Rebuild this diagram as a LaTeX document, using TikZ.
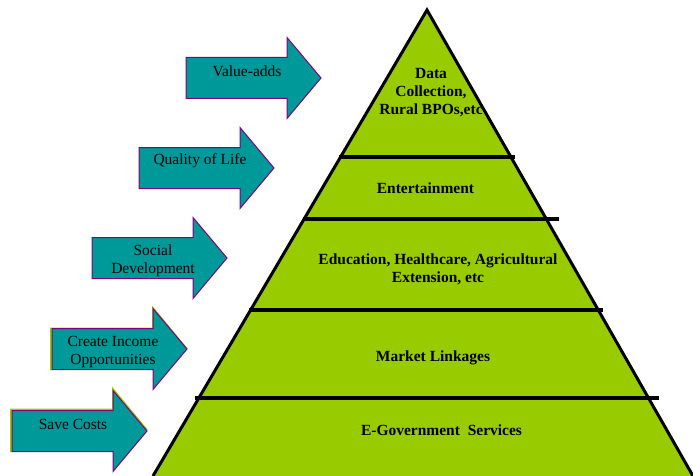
\documentclass[tikz,border=0pt]{standalone}
\usepackage{fontspec}
\setmainfont{Liberation Serif}
\usetikzlibrary{positioning}

\definecolor{leaf}{HTML}{99CC00}
\definecolor{sea}{HTML}{009999}
\definecolor{plum}{HTML}{800080}

\tikzset{
  side/.style={line width=3pt},
  layer/.style={line width=3.6pt},
  gainbox/.style={fill=sea, draw=plum, line width=1pt},
  glow/.style={draw=leaf, line width=1.6pt},
  gaintext/.style={font=\fontsize{15.5}{18}\selectfont, align=center, inner sep=0pt},
  tiertext/.style={font=\fontsize{15.5}{18}\selectfont\bfseries, align=center, inner sep=0pt}
}

% arrow with its label: #1 name, #2 x, #3 y of the centre line, #4 text, #5 text shift
\newcommand{\gainarrow}[5]{%
  \draw[gainbox] (#2,#3-20.5) -- (#2+101,#3-20.5) -- (#2+101,#3-40.5)
        -- (#2+135,#3) -- (#2+101,#3+40.5) -- (#2+101,#3+20.5)
        -- (#2,#3+20.5) -- cycle;
  \node[gaintext] (#1) at (#2+61,#3+#5) {#4};
}

\begin{document}
\begin{tikzpicture}[x=1pt, y=-1pt]
  \useasboundingbox (0,0) rectangle (693,476);

  % pyramid
  \coordinate (apex) at (427,10);
  \coordinate (baseL) at (153,476);
  \coordinate (baseR) at (693,476);
  \fill[leaf] (apex) -- (baseR) -- (baseL) -- cycle;
  \draw[side] (baseL) -- (apex) -- (baseR);

  % tiers
  \foreach \y/\xa/\xb in {157/339/515, 219/303/559, 310/249/603, 398/195/659}
    \draw[layer] (\xa,\y) -- (\xb,\y);

  \node[tiertext] (data) at (431,93) {Data\\Collection,\\Rural BPOs,etc};
  \node[tiertext] (fun) at (425.5,188) {Entertainment};
  \node[tiertext] (social) at (438,269) {Education, Healthcare, Agricultural\\Extension, etc};
  \node[tiertext] (market) at (433,358) {Market Linkages};
  \node[tiertext] (egov) at (441.5,430) {E-Government\ \ Services};

  % benefits
  \draw[glow] (11,452) -- (11,409.5) -- (113,409.5) -- (113,389) -- (147,430);
  \draw[glow] (51,370) -- (51,328.5) -- (153,328.5) -- (153,308) -- (187,349);
  \gainarrow{value}{186}{78}{Value-adds}{-7}
  \gainarrow{life}{139}{168}{Quality of Life}{-7}
  \gainarrow{dev}{92}{258}{Social\\Development}{3}
  \gainarrow{income}{52}{349}{Create Income\\Opportunities}{3}
  \gainarrow{costs}{12}{431}{Save Costs}{-7}
\end{tikzpicture}
\end{document}
